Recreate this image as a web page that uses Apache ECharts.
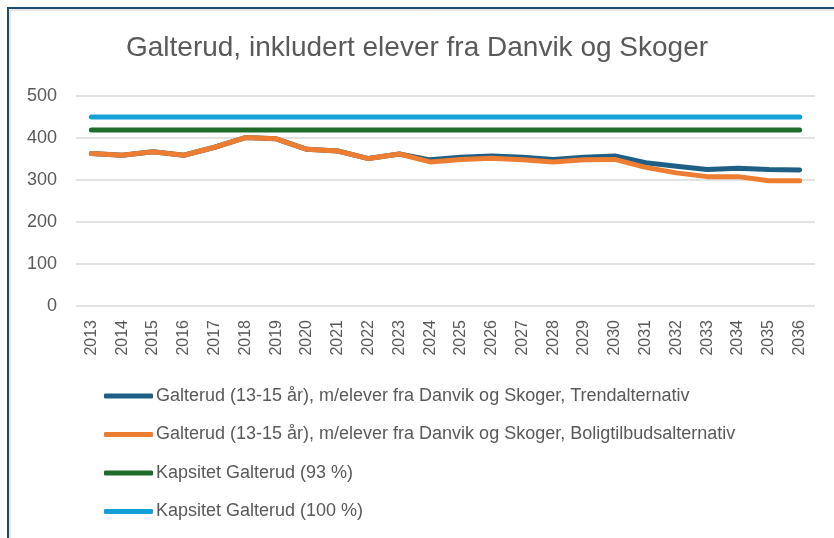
<!DOCTYPE html>
<html>
<head>
<meta charset="utf-8">
<script src="https://cdn.jsdelivr.net/npm/echarts@6/dist/echarts.min.js"></script>
<style>
    html, body { margin: 0; padding: 0; background: #fff; }
    #chart { width: 834px; height: 538px; }
</style>
</head>
<body>
<div id="chart"></div>
<script>
const years = ["2013", "2014", "2015", "2016", "2017", "2018", "2019", "2020", "2021", "2022", "2023", "2024",
    "2025", "2026", "2027", "2028", "2029", "2030", "2031", "2032", "2033", "2034", "2035", "2036"];
const trend = [363, 359, 367, 359, 378, 401, 398, 373, 369, 351, 362, 348,
    354, 357, 354, 349, 354, 357, 341, 333, 325, 328, 325, 324];
const bolig = [363, 359, 367, 359, 378, 401, 398, 373, 369, 351, 362, 343,
    349, 352, 348, 343, 348, 349, 330, 317, 308, 308, 298, 298];
const kap93 = years.map(() => 419);
const kap100 = years.map(() => 450);
const yTicks = [0, 100, 200, 300, 400, 500];

const font = "'Liberation Sans', Arial, sans-serif";
const textColor = "#595959";

const chart = echarts.init(document.getElementById("chart"));

const line = (name, data, color) => ({
    name,
    type: "line",
    data,
    symbol: "none",
    lineStyle: { width: 5, color, cap: "round", join: "round" },
    itemStyle: { color },
});

chart.setOption({
    animation: false,
    textStyle: { fontFamily: font },
    title: {
        text: "Galterud, inkludert elever fra Danvik og Skoger",
        left: "center",
        top: 29,
        textStyle: { fontSize: 28, fontWeight: "normal", color: textColor, fontFamily: font },
    },
    grid: { left: 76, right: 19, top: 96, height: 210 },
    xAxis: {
        type: "category",
        data: years,
        boundaryGap: true,
        axisLine: { show: false },
        axisTick: { show: false },
        axisLabel: { rotate: 90, fontSize: 16, color: textColor, margin: 14 },
    },
    yAxis: {
        type: "value",
        min: yTicks[0],
        max: yTicks[yTicks.length - 1],
        interval: 100,
        axisLabel: { fontSize: 18, color: textColor, margin: 19 },
        splitLine: { lineStyle: { color: "#d9d9d9", width: 1.5 } },
    },
    legend: {
        orient: "vertical",
        left: 104,
        top: 387,
        padding: 0,
        itemWidth: 49,
        itemHeight: 5,
        itemGap: 20.5,
        icon: "roundRect",
        textStyle: { fontSize: 18, color: textColor, padding: [0, 0, 0, -2] },
    },
    graphic: [
        {
            type: "rect",
            shape: { x: 8, y: 8, width: 900, height: 600 },
            style: { fill: "none", stroke: "#1d4a70", lineWidth: 2 },
        },
        {
            type: "rect",
            shape: { x: 10, y: 10, width: 900, height: 600 },
            style: { fill: "none", stroke: "#d0d0d0", lineWidth: 1 },
        },
    ],
    series: [
        line("Galterud (13-15 år), m/elever fra Danvik og Skoger, Trendalternativ", trend, "#1f5f85"),
        line("Galterud (13-15 år), m/elever fra Danvik og Skoger, Boligtilbudsalternativ", bolig, "#ed7d31"),
        line("Kapsitet Galterud (93 %)", kap93, "#1e6b2a"),
        line("Kapsitet Galterud (100 %)", kap100, "#16a0d8"),
    ],
});
</script>
</body>
</html>
